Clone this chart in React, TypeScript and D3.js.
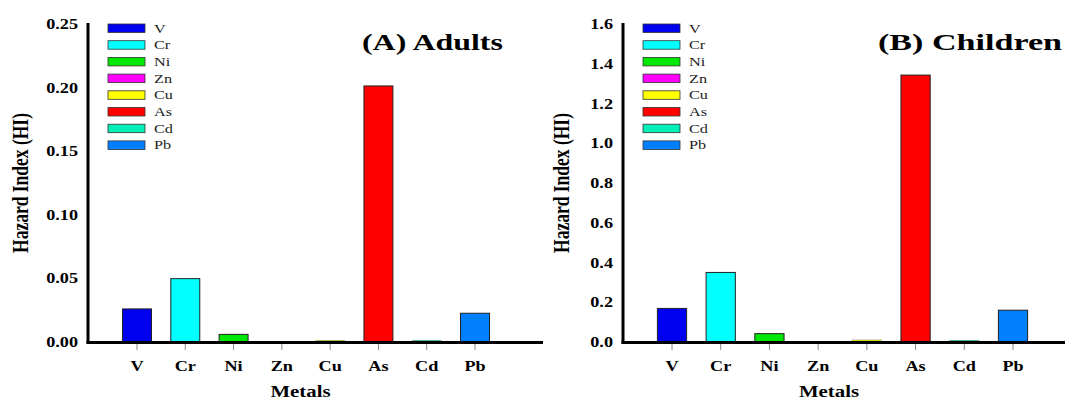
import React from "react";
import * as d3 from "d3";

const metals = ["V", "Cr", "Ni", "Zn", "Cu", "As", "Cd", "Pb"];
const colors = ["#0000f0", "#00ffff", "#00e800", "#ff00ff", "#ffff00", "#ff0000", "#00f0b8", "#0080ff"];
const adultsHI = [0.026, 0.0498, 0.006, 0.0002, 0.0012, 0.2013, 0.0012, 0.0226];
const childrenHI = [0.169, 0.35, 0.042, 0.002, 0.01, 1.343, 0.008, 0.16];
const adultTicks = [0, 0.05, 0.1, 0.15, 0.2, 0.25];
const childTicks = [0, 0.2, 0.4, 0.6, 0.8, 1.0, 1.2, 1.4, 1.6];

const SX = 1.3;
const FONT = "'Liberation Serif', 'Times New Roman', serif";

type PanelProps = {
  axisX: number;
  axisRight: number;
  firstTick: number;
  lastTick: number;
  values: number[];
  ticks: number[];
  yMax: number;
  fmt: (v: number) => string;
  title: string;
  titleX: number;
  titleSX: number;
  labelX: number;
};

function Panel(p: PanelProps) {
  const y = d3.scaleLinear().domain([0, p.yMax]).range([342, 24]);
  const x = d3.scalePoint<string>().domain(metals).range([p.firstTick, p.lastTick]);
  const step = x.step();
  const bw = step * 0.6;
  const legendX = p.axisX + 20;
  return (
    <g>
      {p.values.map((v, i) => (
        <rect
          key={metals[i]}
          x={x(metals[i])! - bw / 2}
          y={y(v)}
          width={bw}
          height={Math.max(0.6, y(0) - y(v))}
          fill={colors[i]}
          stroke="#222"
          strokeWidth={1}
          strokeOpacity={y(0) - y(v) < 3 ? 0.35 : 1}
        />
      ))}
      {metals.map((m) => (
        <line key={m} x1={x(m)} x2={x(m)} y1={344} y2={350} stroke="#888" strokeWidth={1} />
      ))}
      <line x1={p.axisX} x2={p.axisX} y1={23} y2={343.5} stroke="#000" strokeWidth={3} />
      <line x1={p.axisX - 1.5} x2={p.axisRight} y1={342.5} y2={342.5} stroke="#000" strokeWidth={3} />
      {p.ticks.map((t) => (
        <text
          key={t}
          transform={`translate(${p.axisX - 10},${y(t) + 5}) scale(${SX},1)`}
          textAnchor="end"
          fontFamily={FONT}
          fontWeight="bold"
          fontSize={14}
        >
          {p.fmt(t)}
        </text>
      ))}
      {metals.map((m) => (
        <text
          key={m}
          transform={`translate(${x(m)},${371}) scale(${SX},1)`}
          textAnchor="middle"
          fontFamily={FONT}
          fontWeight="bold"
          fontSize={14}
        >
          {m}
        </text>
      ))}
      <text
        transform={`translate(${(p.axisX + p.axisRight) / 2 - 15},${397}) scale(${SX},1)`}
        textAnchor="middle"
        fontFamily={FONT}
        fontWeight="bold"
        fontSize={16}
      >
        Metals
      </text>
      <text
        transform={`translate(${p.labelX},${183}) rotate(-90) scale(1,${SX})`}
        textAnchor="middle"
        fontFamily={FONT}
        fontWeight="bold"
        fontSize={17.5}
      >
        Hazard Index (HI)
      </text>
      <text
        transform={`translate(${p.titleX},${50}) scale(${p.titleSX},1)`}
        textAnchor="start"
        fontFamily={FONT}
        fontWeight="bold"
        fontSize={24}
      >
        {p.title}
      </text>
      {metals.map((m, i) => (
        <g key={m}>
          <rect
            x={legendX}
            y={24 + i * 16.7}
            width={37}
            height={8.5}
            fill={colors[i]}
            stroke="#333"
            strokeWidth={0.8}
          />
          <text
            transform={`translate(${legendX + 46},${32.5 + i * 16.7}) scale(${SX},1)`}
            fontFamily={FONT}
            fontSize={12.5}
            fill="#222"
          >
            {m}
          </text>
        </g>
      ))}
    </g>
  );
}

export default function App() {
  return (
    <svg
      width={1065}
      height={401}
      style={{ position: "absolute", left: 0, top: 0, background: "#fff" }}
    >
      <Panel
        axisX={88}
        axisRight={543}
        firstTick={137}
        lastTick={475}
        values={adultsHI}
        ticks={adultTicks}
        yMax={0.25}
        fmt={d3.format(".2f")}
        title="(A) Adults"
        titleX={362}
        titleSX={1.33}
        labelX={28}
      />
      <Panel
        axisX={623}
        axisRight={1065}
        firstTick={672}
        lastTick={1013}
        values={childrenHI}
        ticks={childTicks}
        yMax={1.6}
        fmt={d3.format(".1f")}
        title="(B) Children"
        titleX={878}
        titleSX={1.42}
        labelX={569}
      />
    </svg>
  );
}
